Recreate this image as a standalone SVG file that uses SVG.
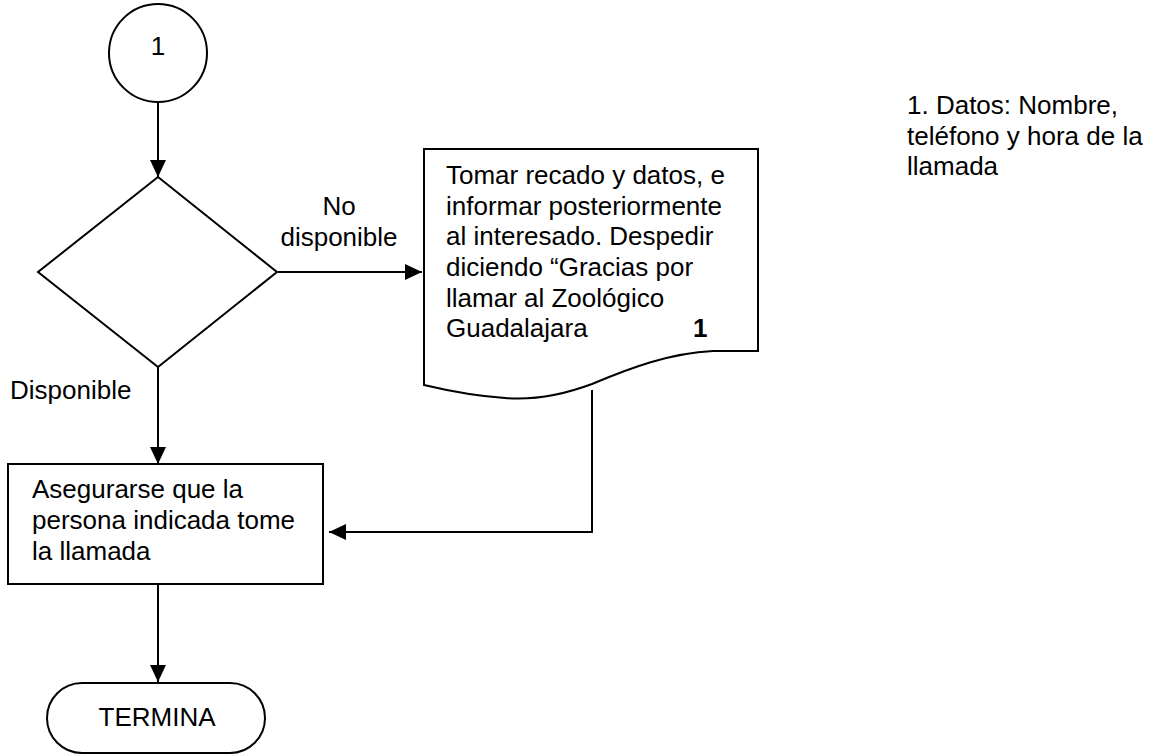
<svg xmlns="http://www.w3.org/2000/svg" width="1149" height="755" viewBox="0 0 1149 755">
<style>
.shape{fill:#fff;stroke:#000;stroke-width:2}
.conn{fill:none;stroke:#000;stroke-width:2}
text{font-family:"Liberation Sans",Arial,sans-serif;font-size:26px;fill:#000}
.c{text-anchor:middle}
</style>
<defs>
<marker id="arr" markerUnits="userSpaceOnUse" markerWidth="18" markerHeight="16" refX="17" refY="8" orient="auto">
<path d="M0,0 L17,8 L0,16 Z" fill="#000"/>
</marker>
</defs>
<rect width="1149" height="755" fill="#fff"/>
<g id="connectors">
<line class="conn" x1="158" y1="102" x2="158" y2="177" marker-end="url(#arr)"/>
<line class="conn" x1="278" y1="272" x2="422" y2="272" marker-end="url(#arr)"/>
<line class="conn" x1="158" y1="367" x2="158" y2="464" marker-end="url(#arr)"/>
<polyline class="conn" points="592,390 592,532 329,532" marker-end="url(#arr)"/>
<line class="conn" x1="158" y1="584" x2="158" y2="682" marker-end="url(#arr)"/>
<text class="c" x="339" y="215">No</text>
<text class="c" x="339" y="246">disponible</text>
<text x="10" y="399">Disponible</text>
</g>
<g id="start">
<circle class="shape" cx="158" cy="53" r="49"/>
<text class="c" x="158" y="55">1</text>
</g>
<g id="decision">
<polygon class="shape" points="158,177 277,272 158,367 38,272"/>
</g>
<g id="document">
<path class="shape" d="M424,149 H758 V351 H713 C670,353 630,368 592,384 C560,396 530,400 505,398 C475,396 445,390 424,385 Z"/>
<text x="446" y="184">Tomar recado y datos, e</text>
<text x="446" y="215">informar posteriormente</text>
<text x="446" y="245">al interesado. Despedir</text>
<text x="446" y="276">diciendo “Gracias por</text>
<text x="446" y="307">llamar al Zoológico</text>
<text x="446" y="337">Guadalajara</text>
<text x="693" y="337" font-weight="bold">1</text>
</g>
<g id="process">
<rect class="shape" x="8" y="464" width="315" height="120"/>
<text x="32" y="498">Asegurarse que la</text>
<text x="32" y="529">persona indicada tome</text>
<text x="32" y="560">la llamada</text>
</g>
<g id="end">
<rect class="shape" x="47" y="683" width="218" height="70" rx="35" ry="35"/>
<text class="c" x="157" y="726">TERMINA</text>
</g>
<g id="note">
<text x="907" y="114">1. Datos: Nombre,</text>
<text x="907" y="145">teléfono y hora de la</text>
<text x="907" y="175">llamada</text>
</g>
</svg>
